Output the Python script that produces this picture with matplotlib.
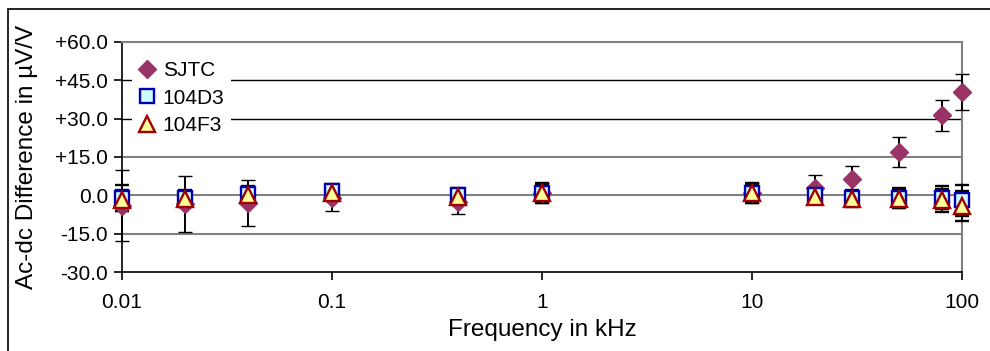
import numpy as np
import matplotlib
matplotlib.use("Agg")
import matplotlib.pyplot as plt
from matplotlib.patches import Rectangle
from matplotlib.lines import Line2D

plt.rcParams['font.family'] = ['Liberation Sans', 'DejaVu Sans']

# frequency points in kHz
freq = [0.01, 0.02, 0.04, 0.1, 0.4, 1, 10, 20, 30, 50, 80, 100]

# ac-dc differences in uV/V and their uncertainties
sjtc = [-4.0, -3.5, -3.0, -1.0, -2.5, 1.0, 1.0, 3.0, 6.5, 17.0, 31.3, 40.3]
sjtc_err = [14.0, 11.0, 9.0, 5.0, 5.0, 4.0, 4.0, 5.0, 5.0, 6.0, 6.0, 7.0]

d3 = [-1.0, -1.0, 0.5, 1.5, 0.0, 1.0, 1.0, 0.0, -1.0, -1.0, -1.0, -2.0]
d3_err = [5.0, 3.0, 3.0, 3.0, 3.0, 4.0, 4.0, 3.0, 3.0, 4.0, 4.5, 6.0]

f3 = [-2.0, -1.5, 0.0, 1.0, -0.5, 1.0, 1.0, -0.5, -1.5, -1.5, -2.0, -4.2]
f3_err = [4.0, 3.0, 3.0, 3.0, 3.0, 3.5, 3.5, 3.0, 3.0, 3.5, 4.5, 6.0]

yticks = [-30, -15, 0, 15, 30, 45, 60]
ytick_labels = ['-30.0', '-15.0', '0.0', '+15.0', '+30.0', '+45.0', '+60.0']
xticks = [0.01, 0.1, 1, 10, 100]
xtick_labels = ['0.01', '0.1', '1', '10', '100']

fig = plt.figure(figsize=(9.9, 3.51), dpi=100)
ax = fig.add_axes([122/990, 1-272/351, 840/990, 230/351])

# gridlines
for yv in yticks[1:-1]:
    col = 'black' if yv in (30, 45) else '#808080'
    lw = 1.0 if yv in (30, 45) else 1.5
    ax.axhline(yv, color=col, lw=lw, zorder=1)

ek = dict(ecolor='black', elinewidth=1.4, capsize=5, capthick=1.4, ls='none', zorder=3)
styles = [
    dict(marker='D', ms=9.5, mfc='#993366', mec='#993366', mew=1.0),
    dict(marker='s', ms=10, mfc='#CCFFFF', mec='#0000B0', mew=1.7),
    dict(marker='^', ms=11, mfc='#FFFF99', mec='#A00000', mew=1.7),
]
names = ['SJTC', '104D3', '104F3']
series = [(sjtc, sjtc_err), (d3, d3_err), (f3, f3_err)]

for (vals, errs), st in zip(series, styles):
    cont = ax.errorbar(freq, vals, yerr=errs, **st, **ek)
    cont[0].set_clip_on(False)
    for a in cont[1]:
        a.set_clip_on(False)
    for a in cont[2]:
        a.set_clip_on(False)

ax.set_xscale('log')
ax.set_xlim(0.01, 100)
ax.set_ylim(-30, 60)
ax.set_xticks(xticks)
ax.set_xticklabels(xtick_labels)
ax.xaxis.set_minor_locator(matplotlib.ticker.NullLocator())
ax.set_yticks(yticks)
ax.set_yticklabels(ytick_labels)
ax.tick_params(axis='both', labelsize=15, direction='out', length=6, width=1.2, color='black')
ax.tick_params(axis='x', pad=9)
ax.tick_params(axis='y', pad=4)

for side in ['top', 'right']:
    ax.spines[side].set_color('#808080')
    ax.spines[side].set_linewidth(1.5)
ax.spines['left'].set_color('black')
ax.spines['left'].set_linewidth(1.2)
ax.spines['bottom'].set_color('black')
ax.spines['bottom'].set_linewidth(1.2)

ax.set_xlabel('Frequency in kHz', fontsize=17.5, labelpad=5)
ax.set_ylabel('Ac-dc Difference in µV/V', fontsize=17.5, labelpad=12)

handles = [Line2D([], [], ls='none', **st) for st in styles]
leg = ax.legend(handles, names, loc='upper left', bbox_to_anchor=(0.0, 0.99), frameon=True,
                fontsize=15, handlelength=0.8, handletextpad=0.35, labelspacing=0.42, borderpad=0.3)
leg.get_frame().set_edgecolor('none')
leg.get_frame().set_facecolor('white')
leg.get_frame().set_alpha(1)
leg.set_zorder(5)

# outer chart border
fig.patches.append(Rectangle((8/990, -0.05), 1.1, 1 - 9/351 + 0.05, transform=fig.transFigure,
                             fill=False, edgecolor='black', lw=1.2))

fig.savefig('out.png', dpi=100)
